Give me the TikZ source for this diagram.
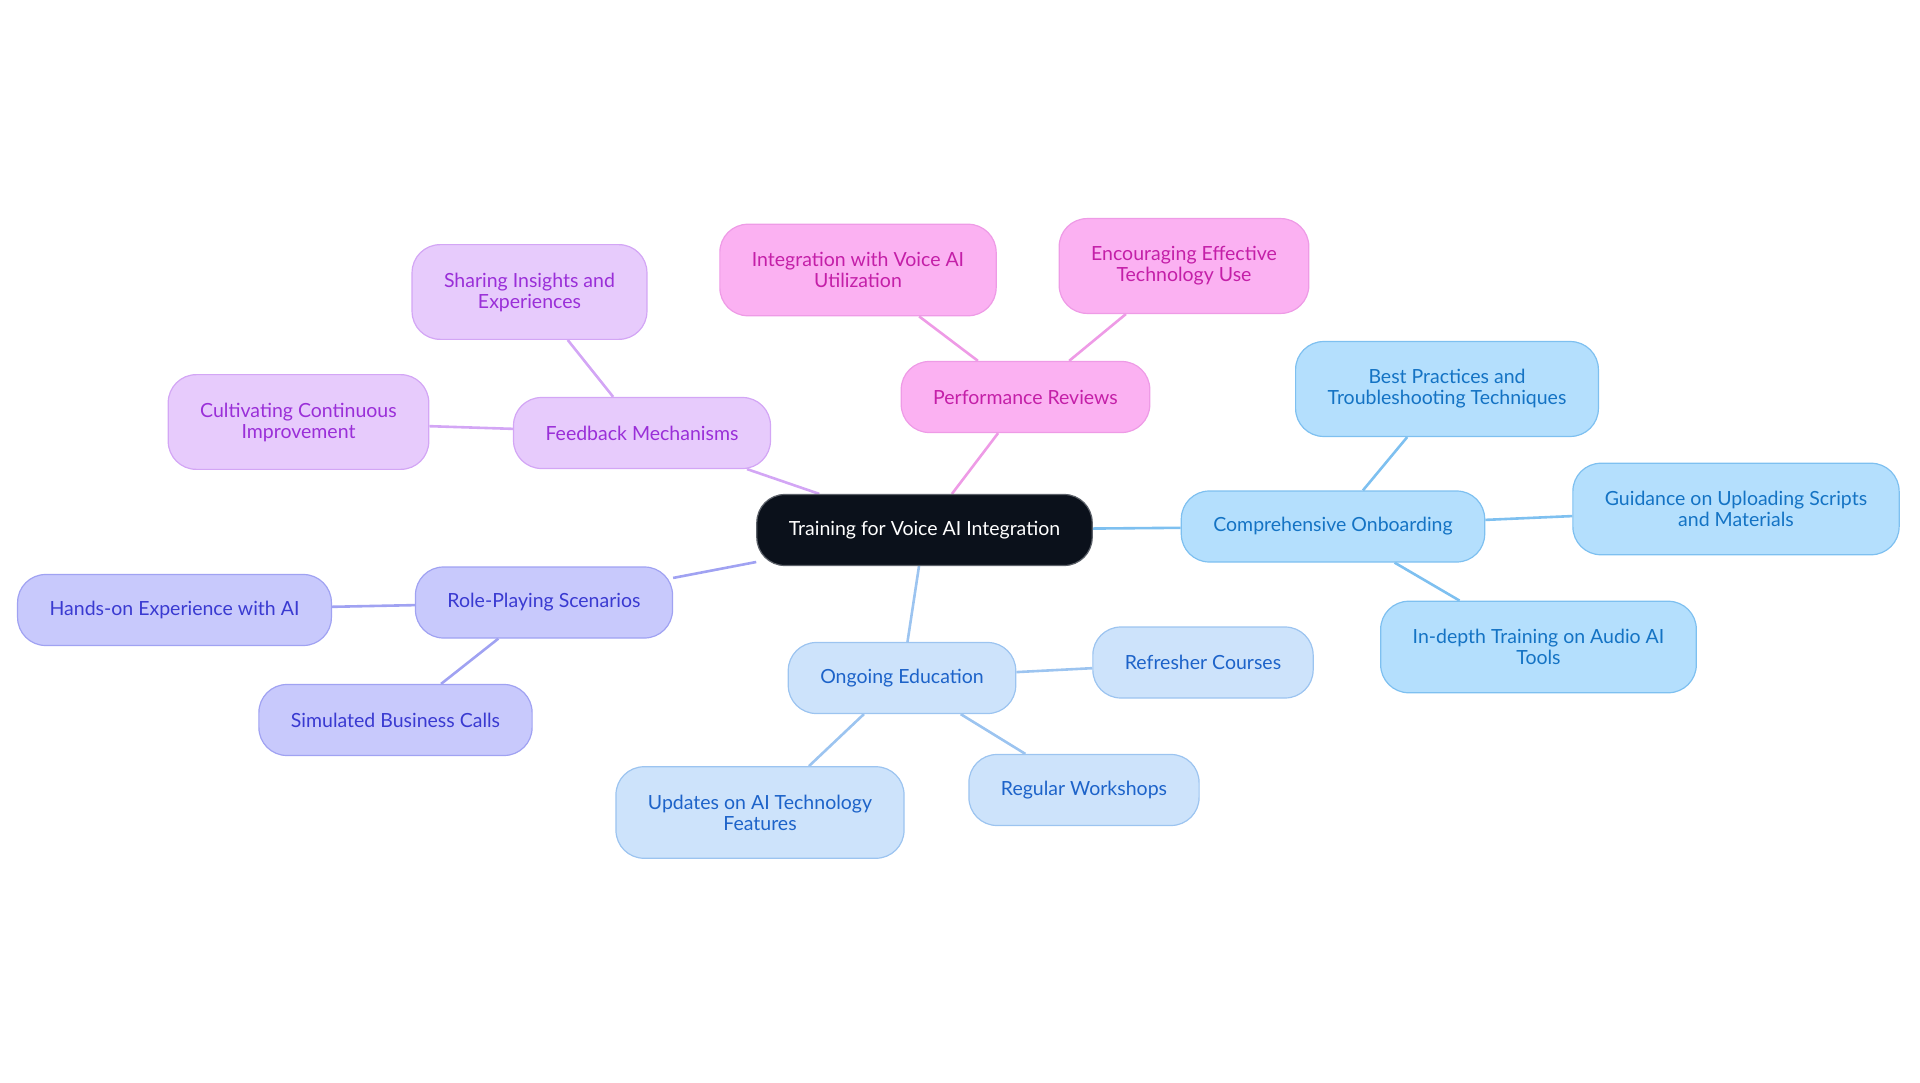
\documentclass[tikz,border=0pt]{standalone}
\usepackage{fontspec}
\setsansfont{Lato}
\usetikzlibrary{backgrounds}
\definecolor{RootFill}{rgb}{0.043, 0.067, 0.106}
\definecolor{RootLine}{rgb}{0.36, 0.38, 0.41}
\definecolor{PinkFill}{rgb}{0.984, 0.694, 0.949}
\definecolor{PinkLine}{rgb}{0.933, 0.608, 0.902}
\definecolor{PinkText}{rgb}{0.769, 0.122, 0.659}
\definecolor{LilacFill}{rgb}{0.906, 0.796, 0.988}
\definecolor{LilacLine}{rgb}{0.827, 0.651, 0.961}
\definecolor{LilacText}{rgb}{0.604, 0.184, 0.847}
\definecolor{IndigoFill}{rgb}{0.784, 0.788, 0.988}
\definecolor{IndigoLine}{rgb}{0.627, 0.635, 0.949}
\definecolor{IndigoText}{rgb}{0.227, 0.227, 0.82}
\definecolor{PaleFill}{rgb}{0.804, 0.89, 0.984}
\definecolor{PaleLine}{rgb}{0.612, 0.769, 0.941}
\definecolor{PaleText}{rgb}{0.114, 0.388, 0.788}
\definecolor{SkyFill}{rgb}{0.706, 0.875, 0.992}
\definecolor{SkyLine}{rgb}{0.494, 0.753, 0.941}
\definecolor{SkyText}{rgb}{0.078, 0.451, 0.769}

\begin{document}
\begin{tikzpicture}[
    x=1pt, y=-1pt,
    font=\sffamily\fontsize{19.5}{21}\selectfont,
    mind/.style={rounded corners=28pt, line width=1.2pt, align=center,
        inner xsep=32pt, inner ysep=26pt, minimum height=71pt},
    tall/.style={inner ysep=28pt},
    rootbox/.style={mind, fill=RootFill, draw=RootLine, text=white},
    pinkbox/.style={mind, fill=PinkFill, draw=PinkLine, text=PinkText},
    lilacbox/.style={mind, fill=LilacFill, draw=LilacLine, text=LilacText},
    indigobox/.style={mind, fill=IndigoFill, draw=IndigoLine, text=IndigoText},
    palebox/.style={mind, fill=PaleFill, draw=PaleLine, text=PaleText},
    skybox/.style={mind, fill=SkyFill, draw=SkyLine, text=SkyText},
    link/.style={line width=2.6pt},
]
\useasboundingbox (0,0) rectangle (1920,1083);

% --- centro ---
\node[rootbox] (root) at (924.5,530) {Training for Voice AI Integration};

% --- rama rosa ---
\node[pinkbox] (perf) at (1025.5,397) {Performance Reviews};
\node[pinkbox, tall] (integ) at (858,270) {Integration with Voice AI\\Utilization};
\node[pinkbox, tall] (encour) at (1184,266) {Encouraging Effective\\Technology Use};

% --- rama lila ---
\node[lilacbox] (feed) at (642,433) {Feedback Mechanisms};
\node[lilacbox, tall] (share) at (529.5,292) {Sharing Insights and\\Experiences};
\node[lilacbox, tall] (cult) at (298.5,422) {Cultivating Continuous\\Improvement};

% --- rama indigo ---
\node[indigobox] (role) at (544,602.5) {Role-Playing Scenarios};
\node[indigobox] (hands) at (174.5,610) {Hands-on Experience with AI};
\node[indigobox] (simul) at (395.5,720) {Simulated Business Calls};

% --- rama azul claro ---
\node[palebox] (ongo) at (902,678) {Ongoing Education};
\node[palebox] (refr) at (1203,662.5) {Refresher Courses};
\node[palebox] (work) at (1084,790) {Regular Workshops};
\node[palebox, tall] (updt) at (760,812.5) {Updates on AI Technology\\Features};

% --- rama celeste ---
\node[skybox] (onb) at (1333,526.5) {Comprehensive Onboarding};
\node[skybox, tall] (best) at (1447,389) {Best Practices and\\Troubleshooting Techniques};
\node[skybox, tall] (guid) at (1736,509) {Guidance on Uploading Scripts\\and Materials};
\node[skybox, tall] (depth) at (1538.5,647) {In-depth Training on Audio AI\\Tools};

% conexiones detras de las cajas
\begin{scope}[on background layer]
\draw[link, PinkLine] (root) -- (perf);
\draw[link, PinkLine] (perf) -- (integ);
\draw[link, PinkLine] (perf) -- (encour);
\draw[link, LilacLine] (root) -- (feed);
\draw[link, LilacLine] (feed) -- (share);
\draw[link, LilacLine] (feed) -- (cult);
\draw[link, IndigoLine] (root) -- (role);
\draw[link, IndigoLine] (role) -- (hands);
\draw[link, IndigoLine] (role) -- (simul);
\draw[link, PaleLine] (root) -- (ongo);
\draw[link, PaleLine] (ongo) -- (refr);
\draw[link, PaleLine] (ongo) -- (work);
\draw[link, PaleLine] (ongo) -- (updt);
\draw[link, SkyLine] (root) -- (onb);
\draw[link, SkyLine] (onb) -- (best);
\draw[link, SkyLine] (onb) -- (guid);
\draw[link, SkyLine] (onb) -- (depth);
\end{scope}

\end{tikzpicture}
\end{document}
